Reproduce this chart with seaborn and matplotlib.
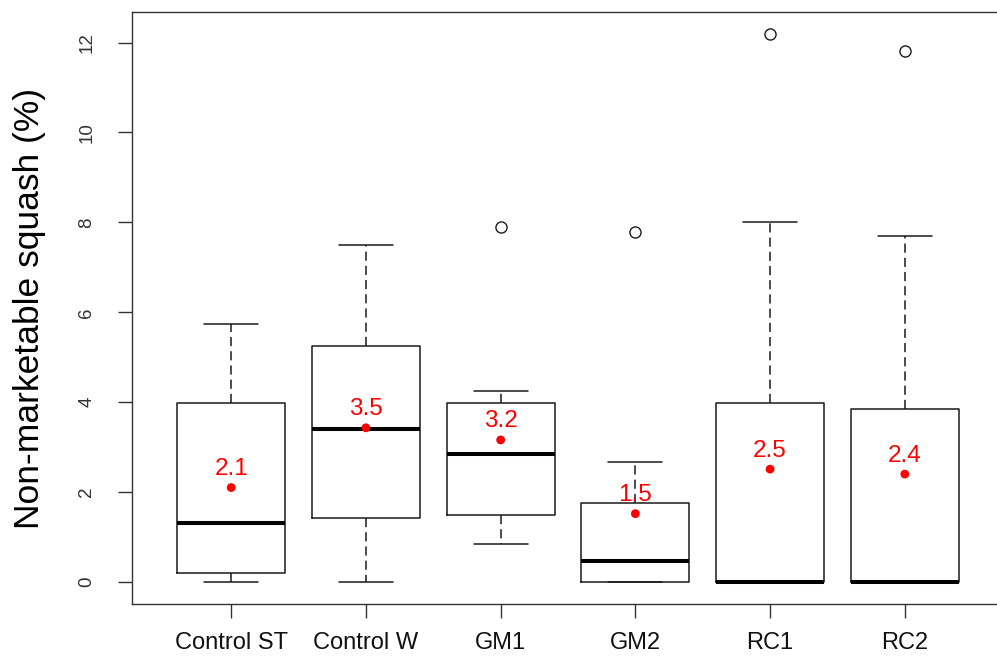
import matplotlib
matplotlib.use('Agg')
import matplotlib.pyplot as plt
import seaborn as sns


# box statistics
groups = ['Control ST', 'Control W', 'GM1', 'GM2', 'RC1', 'RC2']
whisker_lo = [0.0, 0.0, 0.85, 0.0, 0.0, 0.0]
q1 = [0.19, 1.42, 1.49, 0.0, 0.0, 0.0]
medians = [1.32, 3.40, 2.85, 0.47, 0.0, 0.0]
q3 = [3.99, 5.24, 3.99, 1.76, 3.98, 3.84]
whisker_hi = [5.73, 7.49, 4.25, 2.68, 8.0, 7.70]
outliers = [[], [], [7.89], [7.79], [12.19], [11.81]]
means = [2.10, 3.43, 3.16, 1.52, 2.51, 2.40]
mean_labels = ['2.1', '3.5', '3.2', '1.5', '2.5', '2.4']


def main():
    sns.set_theme(style='white')
    plt.rcParams['font.family'] = ['Liberation Sans', 'DejaVu Sans']

    fig = plt.figure(figsize=(9.97, 6.64), dpi=100)
    # R-style plot region; right frame edge falls just outside the image
    ax = fig.add_axes([131.5 / 997, 60 / 664, 873 / 997, 592 / 664])

    stats = []
    for i, name in enumerate(groups):
        stats.append({'label': name, 'whislo': whisker_lo[i], 'q1': q1[i],
                      'med': medians[i], 'q3': q3[i], 'whishi': whisker_hi[i],
                      'fliers': outliers[i]})

    line_col = '#1a1a1a'
    ax.bxp(stats, positions=list(range(len(groups))), widths=0.8,
           boxprops={'color': line_col, 'linewidth': 1.1},
           medianprops={'color': 'black', 'linewidth': 2.9, 'solid_capstyle': 'butt'},
           whiskerprops={'color': line_col, 'linewidth': 1.1,
                         'linestyle': (0, (6.0, 3.3))},
           capprops={'color': line_col, 'linewidth': 1.1},
           flierprops={'marker': 'o', 'markersize': 8, 'markerfacecolor': 'none',
                       'markeredgecolor': line_col, 'markeredgewidth': 1.0})

    # group means as red dots with their rounded values
    sns.scatterplot(x=list(range(len(groups))), y=means, color='red', s=40,
                    edgecolor='none', ax=ax, zorder=4)
    for i, m in enumerate(means):
        ax.text(i, m + 0.28, mean_labels[i], color='red', fontsize=17.5,
                ha='center', va='baseline', zorder=5)

    ax.set_xlim(-0.74, 5.74)
    ax.set_ylim(-0.49, 12.68)
    ax.set_xticks(range(len(groups)), groups)
    ax.set_yticks(range(0, 13, 2))
    ax.tick_params(axis='x', direction='out', length=10, width=1.0,
                   color='#333333', labelsize=17, pad=10, labelcolor='#111111',
                   bottom=True)
    ax.tick_params(axis='y', direction='out', length=10, width=1.0,
                   color='#333333', labelsize=13.5, pad=16, labelcolor='#333333',
                   labelrotation=90, left=True)
    for lab in ax.get_yticklabels():
        lab.set_va('center')

    for side in ['left', 'right', 'top', 'bottom']:
        ax.spines[side].set_visible(True)
        ax.spines[side].set_color('#333333')
        ax.spines[side].set_linewidth(1.0)

    ax.set_xlabel('')
    ax.set_ylabel('')
    fig.text(30 / 997, 1 - 308 / 664, 'Non-marketable squash (%)', rotation=90,
             ha='center', va='center', fontsize=25.5, color='black')

    fig.savefig('out.png', dpi=100)


if __name__ == '__main__':
    main()
